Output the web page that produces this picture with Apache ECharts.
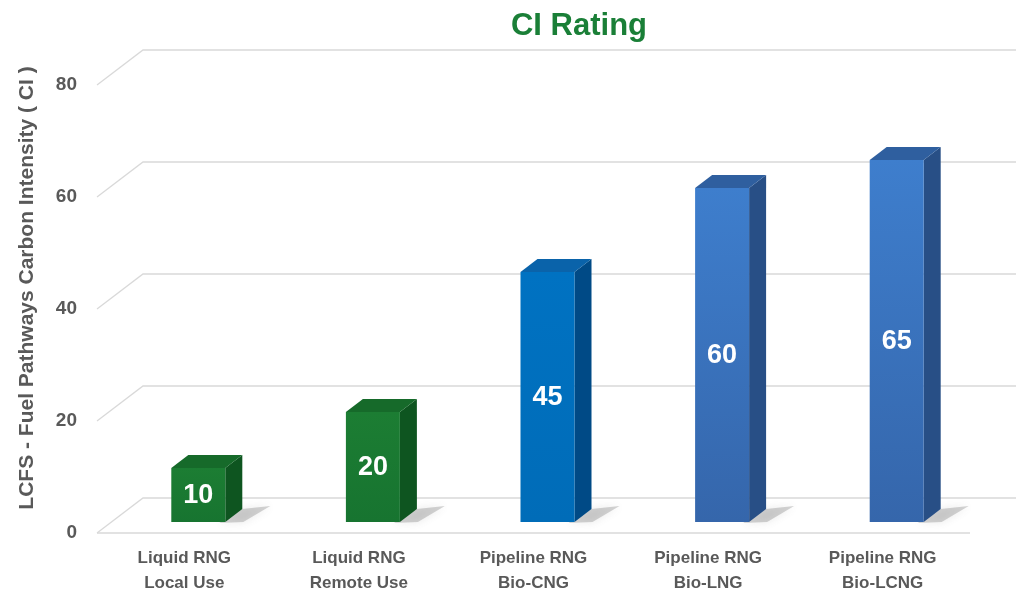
<!DOCTYPE html>
<html>
<head>
<meta charset="utf-8">
<script src="https://cdn.jsdelivr.net/npm/echarts@6/dist/echarts.min.js"></script>
<style>
html,body{margin:0;padding:0;background:#fff;}
#c{width:1016px;height:596px;}
</style>
</head>
<body>
<div id="c"></div>
<script>
// ---- data ----
var categories = ['Liquid RNG\nLocal Use', 'Liquid RNG\nRemote Use', 'Pipeline RNG\nBio-CNG', 'Pipeline RNG\nBio-LNG', 'Pipeline RNG\nBio-LCNG'];
var ciValues = [10, 20, 45, 60, 65];
var yTicks = [0, 20, 40, 60, 80];

// ---- styles ----
var barStyles = [
  {front: ['#1c7d33', '#177430'], top: '#166a2a', side: '#0e5520'},
  {front: ['#1c7d33', '#177430'], top: '#166a2a', side: '#0e5520'},
  {front: ['#0072c2', '#006cb8'], top: '#0a63aa', side: '#004a86'},
  {front: ['#3e7ecd', '#3566ab'], top: '#2f5f9f', side: '#284f86'},
  {front: ['#3e7ecd', '#3566ab'], top: '#2f5f9f', side: '#284f86'}
];
var DX = 46, DY = -35;      // floor depth of the grid
var BDX = 17, BDY = -13;    // bar depth
var BAR_W = 54;

var chart = echarts.init(document.getElementById('c'));

function renderGrid(params, api) {
  var v = api.value(0);
  var cs = params.coordSys;
  var y = api.coord([0, v])[1];
  var L = cs.x, R = cs.x + cs.width;
  var children = [{
    type: 'polyline',
    shape: {points: [[L, y], [L + DX, y + DY], [R + DX, y + DY]]},
    style: {stroke: '#d9d9d9', lineWidth: 1.3, fill: null}
  }];
  if (v === 0) {
    children.push({
      type: 'line',
      shape: {x1: L, y1: y, x2: R, y2: y},
      style: {stroke: '#d9d9d9', lineWidth: 1.3}
    });
  }
  return {type: 'group', children: children};
}

function renderBar(params, api) {
  var i = api.value(0);
  var v = api.value(1);
  var cx = api.coord([i, 0])[0] + 14;
  var yTop = api.coord([i, v])[1] - 9;
  var yBot = api.coord([i, 0])[1] - 11;
  var l = cx - BAR_W / 2, r = cx + BAR_W / 2;
  var s = barStyles[i];
  return {
    type: 'group',
    children: [
      { // soft shadow on floor
        type: 'polygon',
        shape: {points: [[r - 6, yBot + 1], [r + BDX, yBot + BDY], [r + BDX + 28, yBot + BDY - 3], [r + 18, yBot]]},
        style: {fill: 'rgba(100,100,100,0.28)', shadowBlur: 9, shadowColor: 'rgba(100,100,100,0.5)'},
        silent: true
      },
      {
        type: 'polygon',
        shape: {points: [[r, yTop], [r + BDX, yTop + BDY], [r + BDX, yBot + BDY], [r, yBot]]},
        style: {fill: s.side}
      },
      {
        type: 'polygon',
        shape: {points: [[l, yTop], [l + BDX, yTop + BDY], [r + BDX, yTop + BDY], [r, yTop]]},
        style: {fill: s.top}
      },
      {
        type: 'rect',
        shape: {x: l, y: yTop, width: BAR_W, height: yBot - yTop},
        style: {
          fill: new echarts.graphic.LinearGradient(0, 0, 0, 1, [
            {offset: 0, color: s.front[0]}, {offset: 1, color: s.front[1]}
          ])
        }
      },
      {
        type: 'text',
        style: {
          text: String(v), x: cx, y: (yTop + yBot) / 2 + 1,
          align: 'center', verticalAlign: 'middle',
          fill: '#ffffff', font: 'bold 27px "Liberation Sans", Arial, sans-serif'
        }
      }
    ]
  };
}

chart.setOption({
  animation: false,
  backgroundColor: '#ffffff',
  title: {
    text: 'CI Rating',
    left: 574, top: 6, textAlign: 'center',
    textStyle: {color: '#1a7f37', fontSize: 31, fontWeight: 'bold', fontFamily: '"Liberation Sans", Arial, sans-serif'}
  },
  grid: {left: 97, right: 46, top: 85, bottom: 61, containLabel: false},
  xAxis: {
    type: 'category',
    data: categories,
    axisLine: {show: false},
    axisTick: {show: false},
    axisLabel: {
      margin: 13, color: '#595959', fontSize: 17, fontWeight: 'bold', lineHeight: 25,
      fontFamily: '"Liberation Sans", Arial, sans-serif',
      interval: 0
    }
  },
  yAxis: {
    type: 'value',
    min: 0, max: 80, interval: 20,
    axisLine: {show: false},
    axisTick: {show: false},
    splitLine: {show: false},
    axisLabel: {
      margin: 20, color: '#595959', fontSize: 19, fontWeight: 'bold',
      fontFamily: '"Liberation Sans", Arial, sans-serif'
    }
  },
  graphic: [{
    type: 'text',
    x: 27, y: 288, rotation: Math.PI / 2,
    style: {
      text: 'LCFS - Fuel Pathways Carbon Intensity ( CI )',
      align: 'center', verticalAlign: 'middle',
      fill: '#595959', font: 'bold 21px "Liberation Sans", Arial, sans-serif'
    }
  }],
  series: [
    {
      type: 'custom', name: 'grid', z: 1, silent: true,
      renderItem: renderGrid,
      data: yTicks.map(function (t) { return [t]; }),
      encode: {y: 0}
    },
    {
      type: 'custom', name: 'CI', z: 3,
      renderItem: renderBar,
      data: ciValues.map(function (v, i) { return [i, v]; }),
      encode: {x: 0, y: 1}
    }
  ]
});
</script>
</body>
</html>
